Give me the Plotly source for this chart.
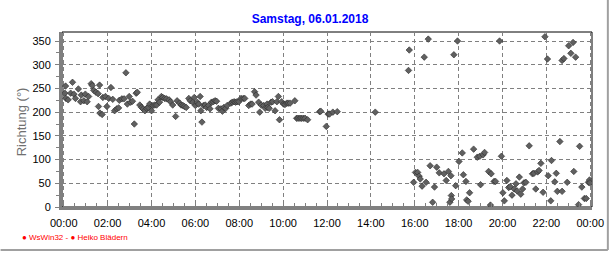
import plotly.graph_objects as go

# --- data -------------------------------------------------------------
times = [
    "00:03", "00:05", "00:06", "00:12", "00:19", "00:24", "00:28", "00:32", "00:40", "00:46",
    "00:48", "00:55", "00:59", "01:04", "01:08", "01:15", "01:18", "01:22", "01:28", "01:34",
    "01:35", "01:38", "01:39", "01:45", "01:47", "01:54", "01:58", "02:03", "02:09", "02:14",
    "02:19", "02:25", "02:30", "02:32", "02:39", "02:45", "02:50", "02:54", "02:59", "03:03",
    "03:08", "03:13", "03:18", "03:21", "03:28", "03:33", "03:37", "03:42", "03:47", "03:51",
    "03:55", "04:00", "04:04", "04:09", "04:14", "04:18", "04:22", "04:27", "04:31", "04:36",
    "04:41", "04:48", "04:52", "04:58", "05:06", "05:10", "05:17", "05:21", "05:26", "05:30",
    "05:35", "05:42", "05:46", "05:53", "05:57", "06:00", "06:05", "06:09", "06:13", "06:15",
    "06:18", "06:22", "06:27", "06:31", "06:36", "06:40", "06:44", "06:49", "06:54", "06:58",
    "07:03", "07:10", "07:14", "07:18", "07:23", "07:27", "07:37", "07:41", "07:46", "07:50",
    "07:54", "07:59", "08:05", "08:11", "08:15", "08:26", "08:31", "08:35", "08:42", "08:46",
    "08:53", "08:56", "09:00", "09:07", "09:11", "09:16", "09:18", "09:22", "09:27", "09:31",
    "09:38", "09:43", "09:47", "09:50", "09:56", "10:01", "10:05", "10:10", "10:14", "10:19",
    "10:32", "10:37", "10:41", "10:46", "10:50", "10:55", "11:00", "11:07", "11:40", "11:43",
    "11:58", "12:03", "12:07", "12:16", "12:28", "14:12",
    "15:43", "15:45", "15:57", "16:02", "16:08", "16:12", "16:15", "16:20", "16:26", "16:31",
    "16:37", "16:42", "16:49", "16:54", "17:00", "17:07", "17:20", "17:26", "17:32", "17:36",
    "17:39", "17:40", "17:41", "17:47", "17:52", "17:57", "18:01", "18:10", "18:13", "18:20",
    "18:22", "18:26", "18:30", "18:41", "18:51", "18:58", "19:00", "19:07", "19:11", "19:22",
    "19:27", "19:29", "19:37", "19:41", "19:52", "19:57", "20:01", "20:05", "20:12", "20:17",
    "20:21", "20:26", "20:32", "20:37", "20:40", "20:46", "20:50", "20:55", "20:59", "21:04",
    "21:13", "21:22", "21:26", "21:31", "21:36", "21:40", "21:45", "21:51", "21:56", "22:03",
    "22:05", "22:12", "22:14", "22:23", "22:27", "22:30", "22:37", "22:43", "22:43", "22:48",
    "22:57", "23:01", "23:07", "23:13", "23:15", "23:20", "23:28", "23:31", "23:37", "23:44",
    "23:49", "23:55", "23:58", "23:59",
]
richtung = [
    240, 255, 229, 226, 240, 263, 238, 229, 249, 222,
    236, 224, 238, 222, 233, 260, 256, 246, 242, 239,
    212, 257, 198, 195, 231, 233, 212, 229, 252, 227,
    203, 207, 209, 225, 228, 228, 283, 217, 233, 221,
    223, 175, 240, 242, 215, 210, 207, 203, 208, 210,
    217, 203, 214, 215, 215, 226, 221, 233, 231, 229,
    228, 226, 222, 215, 191, 224, 219, 215, 214, 212,
    210, 229, 224, 221, 231, 214, 221, 217, 233, 203,
    179, 214, 215, 210, 214, 207, 221, 222, 224, 223,
    208, 207, 202, 210, 208, 214, 219, 221, 222, 221,
    222, 222, 229, 229, 229, 214, 217, 217, 243, 236,
    221, 200, 215, 214, 208, 217, 210, 208, 221, 222,
    203, 222, 233, 184, 222, 217, 216, 219, 219, 219,
    224, 187, 187, 187, 187, 187, 187, 184, 201, 202,
    170, 196, 196, 200, 201, 200,
    288, 331, 52, 73, 73, 65, 59, 44, 316, 52,
    354, 87, 10, 42, 84, 72, 70, 56, 75, 10,
    66, 24, 17, 321, 45, 350, 96, 114, 68, 54,
    15, 12, 30, 122, 105, 107, 47, 110, 115, 75,
    4, 70, 54, 54, 350, 107, 30, 13, 56, 41,
    43, 25, 38, 49, 34, 63, 27, 38, 51, 52,
    129, 70, 71, 38, 74, 77, 92, 31, 359, 312,
    66, 13, 98, 53, 71, 33, 138, 309, 33, 313,
    52, 340, 324, 347, 75, 316, 5, 128, 42, 18,
    18, 52, 57, 51,
]
tick_hours = [0, 2, 4, 6, 8, 10, 12, 14, 16, 18, 20, 22, 24]
tick_labels = ["00:00", "02:00", "04:00", "06:00", "08:00", "10:00", "12:00",
               "14:00", "16:00", "18:00", "20:00", "22:00", "00:00"]
y_ticks = [0, 50, 100, 150, 200, 250, 300, 350]

title_text = "Samstag, 06.01.2018"
y_title = "Richtung (°)"
footer = "● WsWin32 - ● Heiko Blädern"

hours = [int(t[:2]) + int(t[3:]) / 60 for t in times]

# --- figure -----------------------------------------------------------
W, H = 616, 253
L, R, T, B = 62, 19, 32, 46
pw, ph = W - L - R, H - T - B

def px2paper_x(p):
    return (p - L) / pw

def px2paper_y(q):
    return (H - B - q) / ph

GRAY = "#808080"
fig = go.Figure()
fig.add_trace(go.Scatter(
    x=hours, y=richtung, mode="markers",
    marker=dict(symbol="diamond", size=5, color="#606060",
                line=dict(color="#2a2a2a", width=0.6)),
    hoverinfo="x+y", showlegend=False,
))

fig.update_layout(
    width=W, height=H,
    margin=dict(l=L, r=R, t=T, b=B, pad=0),
    paper_bgcolor="white", plot_bgcolor="white",
    font=dict(family="Liberation Sans, Arial, sans-serif", size=11, color="black"),
    title=dict(text="<b>" + title_text + "</b>", x=310 / W, xref="container",
               y=1 - 19 / H, yref="container", xanchor="center", yanchor="middle",
               font=dict(size=12, color="#0000ff")),
    xaxis=dict(
        range=[-0.08, 24.08], tickmode="array", tickvals=tick_hours, ticktext=tick_labels,
        ticks="inside", ticklen=5, tickcolor=GRAY, tickwidth=1,
        showgrid=True, gridcolor=GRAY, gridwidth=1, griddash="4px,3px",
        showline=True, linecolor=GRAY, linewidth=3, zeroline=False,
        minor=dict(tickmode="linear", tick0=0, dtick=0.5, ticks="inside",
                   ticklen=4, tickcolor=GRAY, showgrid=False),
        ticklabelstandoff=4, fixedrange=True,
    ),
    yaxis=dict(
        range=[0, 369], tickmode="array", tickvals=y_ticks,
        ticks="outside", ticklen=4, tickcolor=GRAY, tickwidth=1,
        showgrid=True, gridcolor=GRAY, gridwidth=1, griddash="4px,3px",
        showline=True, linecolor=GRAY, linewidth=3, zeroline=False,
        minor=dict(tickmode="linear", tick0=0, dtick=25, ticks="outside",
                   ticklen=3, tickcolor=GRAY, showgrid=False),
        ticklabelstandoff=2, fixedrange=True,
    ),
    shapes=[
        dict(type="rect", xref="paper", yref="paper", x0=0, x1=1, y0=0, y1=1,
             line=dict(color="black", width=1), layer="below"),
        dict(type="line", xref="paper", yref="paper",
             x0=px2paper_x(613), x1=px2paper_x(613), y0=px2paper_y(0), y1=px2paper_y(250),
             line=dict(color="#a0a0a0", width=2)),
        dict(type="line", xref="paper", yref="paper",
             x0=px2paper_x(0), x1=px2paper_x(613), y0=px2paper_y(250), y1=px2paper_y(250),
             line=dict(color="#a0a0a0", width=2)),
    ],
    annotations=[
        dict(text=y_title, xref="paper", yref="paper", x=px2paper_x(22), y=px2paper_y(122),
             xanchor="center", yanchor="middle", textangle=-90, showarrow=False,
             font=dict(size=13, color="#707070")),
        dict(text=footer, xref="paper", yref="paper", x=px2paper_x(20), y=px2paper_y(238),
             xanchor="left", yanchor="middle", showarrow=False,
             font=dict(size=8, color="#ff0000")),
    ],
)

fig.write_html("out.html")
